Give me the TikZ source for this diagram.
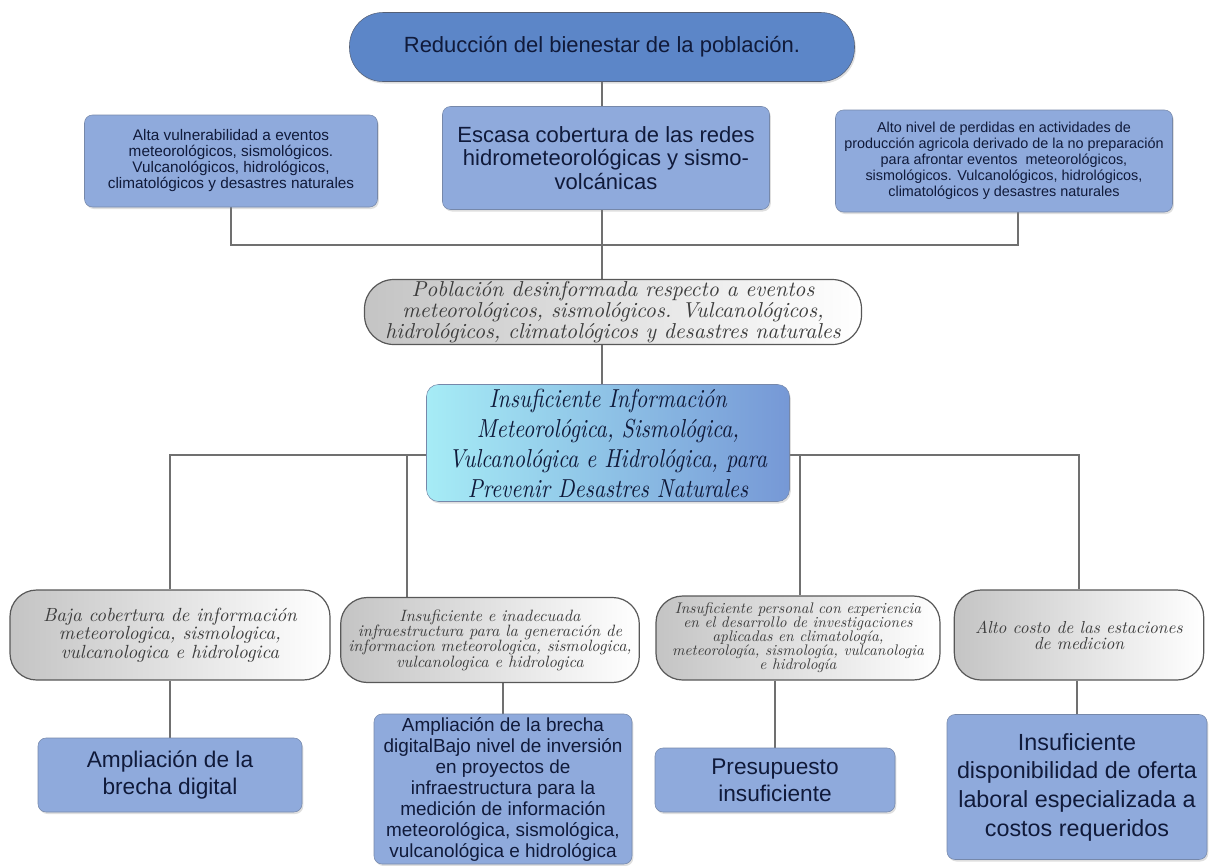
\documentclass[tikz,border=0pt]{standalone}
\usepackage{fontspec}
\setmainfont{Liberation Sans}
\newfontfamily\garfont{lmroman10-italic.otf}
\newfontfamily\garangosta[FakeStretch=0.85]{lmroman10-italic.otf}
\usetikzlibrary{backgrounds,shadows}

\definecolor{azulfuerte}{RGB}{92,134,200}
\definecolor{azulclaro}{RGB}{143,170,220}
\definecolor{azulborde}{RGB}{118,136,170}
\definecolor{tinta}{RGB}{16,26,58}
\definecolor{grisborde}{RGB}{88,88,88}
\definecolor{grisclaro}{RGB}{196,196,196}
\definecolor{grisletra}{RGB}{60,60,60}
\definecolor{cianclaro}{RGB}{166,236,246}
\definecolor{azulmedio}{RGB}{118,152,214}
\definecolor{lineagris}{RGB}{112,112,112}

\begin{document}
\begin{tikzpicture}[x=0.75pt, y=-0.75pt,
        caja/.style={draw=azulborde, fill=azulclaro, rounded corners=6pt, align=center, text=tinta, inner sep=1pt,
            drop shadow={opacity=0.25, shadow xshift=1pt, shadow yshift=-1.5pt}},
        pildora/.style={draw=grisborde, line width=0.9pt, left color=grisclaro, right color=white, rounded corners=20pt,
            align=center, text=grisletra, inner sep=1pt},
        linea/.style={draw=lineagris, line width=0.9pt}]
        \useasboundingbox (0,0) rectangle (1211,865);

        \node[caja, fill=azulfuerte, draw=azulborde!70!black, rounded corners=25pt, minimum width=378.75pt, minimum height=51.75pt,
            font=\fontsize{16.5}{18}\selectfont] (reduccion) at (602,47) {Reducción del bienestar de la población.};

        \node[caja, minimum width=219.75pt, minimum height=69pt, font=\fontsize{11.5}{12}\selectfont] (alta) at (231,161)
            {Alta vulnerabilidad a eventos\\meteorológicos, sismológicos.\\Vulcanológicos, hidrológicos,\\climatológicos y desastres naturales};
        \node[caja, minimum width=245.25pt, minimum height=77.25pt, font=\fontsize{16.5}{17.6}\selectfont] (escasa) at (606,158)
            {Escasa cobertura de las redes\\hidrometeorológicas y sismo-\\volcánicas};
        \node[caja, minimum width=252.75pt, minimum height=76.5pt, font=\fontsize{10.8}{12}\selectfont] (alto) at (1004,161)
            {Alto nivel de perdidas en actividades de\\producción agricola derivado de la no preparación\\para afrontar eventos\ \ meteorológicos,\\sismológicos. Vulcanológicos, hidrológicos,\\climatológicos y desastres naturales};

        \node[pildora, rounded corners=22pt, minimum width=372.75pt, minimum height=48.75pt,
            font=\garfont\fontsize{16.2}{14.3}\selectfont] (poblacion) at (613,312)
            {Población desinformada respecto a eventos\\meteorológicos, sismológicos. Vulcanológicos,\\hidrológicos, climatológicos y desastres naturales};

        \node[draw=azulborde, left color=cianclaro, right color=azulmedio, rounded corners=9pt, align=center, text=tinta, inner sep=1pt,
            minimum width=272.25pt, minimum height=87.75pt, font=\garangosta\fontsize{19.5}{22.5}\selectfont,
            drop shadow={opacity=0.25, shadow xshift=1pt, shadow yshift=-1.5pt}] (centro) at (608,443)
            {Insuficiente Información\\Meteorológica, Sismológica,\\Vulcanológica e Hidrológica, para\\Prevenir Desastres Naturales};

        \node[pildora, minimum width=240pt, minimum height=67.5pt, font=\garfont\fontsize{14.3}{12.5}\selectfont] (baja) at (170,635)
            {Baja cobertura de información\\meteorologica, sismologica,\\vulcanologica e hidrologica};
        \node[pildora, minimum width=224pt, minimum height=63.75pt, font=\garfont\fontsize{12.3}{11.5}\selectfont] (infra) at (490,640)
            {Insuficiente e inadecuada\\infraestructura para la generación de\\informacion meteorologica, sismologica,\\vulcanologica e hidrologica};
        \node[pildora, minimum width=213pt, minimum height=63pt, font=\garfont\fontsize{11.5}{10.5}\selectfont] (personal) at (798,638)
            {Insuficiente personal con experiencia\\en el desarrollo de investigaciones\\aplicadas en climatología,\\meteorología, sismología, vulcanologia\\e hidrología};
        \node[pildora, minimum width=187pt, minimum height=67.5pt, font=\garfont\fontsize{13}{12}\selectfont] (costo) at (1079,635)
            {Alto costo de las estaciones\\de medicion};

        \node[caja, minimum width=198pt, minimum height=55.5pt, font=\fontsize{17}{20}\selectfont] (brecha) at (170,775)
            {Ampliación de la\\brecha digital};
        \node[caja, minimum width=193.5pt, minimum height=112.5pt, font=\fontsize{14.2}{15.75}\selectfont] (inversion) at (503,789)
            {Ampliación de la brecha\\digitalBajo nivel de inversión\\en proyectos de\\infraestructura para la\\medición de información\\meteorológica, sismológica,\\vulcanológica e hidrológica};
        \node[caja, minimum width=180pt, minimum height=48pt, font=\fontsize{17}{20}\selectfont] (presupuesto) at (775,780)
            {Presupuesto\\insuficiente};
        \node[caja, minimum width=195pt, minimum height=108.75pt, font=\fontsize{17.5}{21.5}\selectfont] (oferta) at (1077,787)
            {Insuficiente\\disponibilidad de oferta\\laboral especializada a\\costos requeridos};

        \begin{scope}[on background layer]
            \coordinate (ramal) at (602,245);
            \coordinate (bajB) at (407,455);
            \coordinate (bajC) at (800,455);
            \draw[linea] (reduccion.south) -- (reduccion.south |- centro.north);
            \draw[linea] (alta.south) |- (ramal) -| ([xshift=10.5pt]alto.south);
            \draw[linea] ([yshift=-9pt]centro.west) -| (baja.north);
            \draw[linea] ([yshift=-9pt]centro.east) -| (costo.north);
            \draw[linea] (bajB) -- (bajB |- infra.north);
            \draw[linea] (bajC) -- (bajC |- personal.north);
            \draw[linea] (baja.south) -- (brecha.north);
            \draw[linea] (inversion.north |- infra.south) -- (inversion.north);
            \draw[linea] (presupuesto.north |- personal.south) -- (presupuesto.north);
            \draw[linea] (oferta.north |- costo.south) -- (oferta.north);
        \end{scope}
    \end{tikzpicture}
\end{document}
